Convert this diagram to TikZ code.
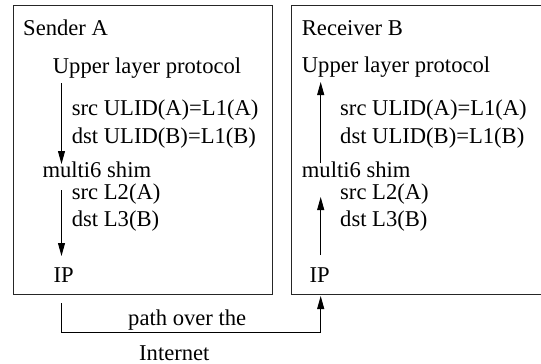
\documentclass[tikz,border=0pt]{standalone}
\usepackage{fontspec}
\setmainfont{Liberation Serif}
\usetikzlibrary{arrows.meta}
\begin{document}
\begin{tikzpicture}[x=1pt,y=-1pt,
  lbl/.style={anchor=base west,inner sep=0pt,font=\fontsize{22.6}{27}\selectfont},
  frame/.style={draw=black!85,line width=0.9pt},
  flow/.style={line width=0.9pt,-{Triangle[width=7pt,length=13pt]}}]
\useasboundingbox (0,0) rectangle (541,364);
% boxes
\draw[frame] (13.5,5.5) -- (272.5,5.5) -- (272.5,294) -- (13.5,294) -- cycle;
\draw[frame] (545,5.5) -- (291.5,5.5) -- (291.5,294) -- (545,294);
% sender texts
\node[lbl] (sa) at (23,35) {Sender A};
\node[lbl] (sulp) at (52.7,73) {Upper layer protocol};
\node[lbl] (ss1) at (71.7,115) {src ULID(A)=L1(A)};
\node[lbl] (sd1) at (71.7,143) {dst ULID(B)=L1(B)};
\node[lbl] (sshim) at (42.3,177) {multi6 shim};
\node[lbl] (ss2) at (71.7,199) {src L2(A)};
\node[lbl] (sd2) at (71.7,226.5) {dst L3(B)};
\node[lbl] (sip) at (53.3,282) {IP};
% receiver texts
\node[lbl] (rb) at (301.7,35) {Receiver B};
\node[lbl] (rulp) at (301.7,72) {Upper layer protocol};
\node[lbl] (rs1) at (340,115) {src ULID(A)=L1(A)};
\node[lbl] (rd1) at (340,143) {dst ULID(B)=L1(B)};
\node[lbl] (rshim) at (301.7,177) {multi6 shim};
\node[lbl] (rs2) at (340,199) {src L2(A)};
\node[lbl] (rd2) at (340,226.5) {dst L3(B)};
\node[lbl] (rip) at (309.3,282) {IP};
% bottom labels
\node[lbl] (pot) at (128,325) {path over the};
\node[lbl] (inet) at (139,360) {Internet};
% arrow coordinates
\coordinate (a1s) at (61.5,83);
\coordinate (a1e) at (61.5,164);
\coordinate (a2s) at (61.5,190);
\coordinate (a2e) at (61.5,256);
\coordinate (b1s) at (320.7,163);
\coordinate (b1e) at (320.7,82);
\coordinate (b2s) at (320.7,255);
\coordinate (b2e) at (320.7,197);
\coordinate (ps) at (61.7,303);
\coordinate (pc1) at (61.7,332);
\coordinate (pc2) at (320.7,332);
\coordinate (pe) at (320.7,296);
\draw[flow] (a1s) -- (a1e);
\draw[flow] (a2s) -- (a2e);
\draw[flow] (b1s) -- (b1e);
\draw[flow] (b2s) -- (b2e);
\draw[flow] (ps) -- (pc1) -- (pc2) -- (pe);
\end{tikzpicture}
\end{document}
